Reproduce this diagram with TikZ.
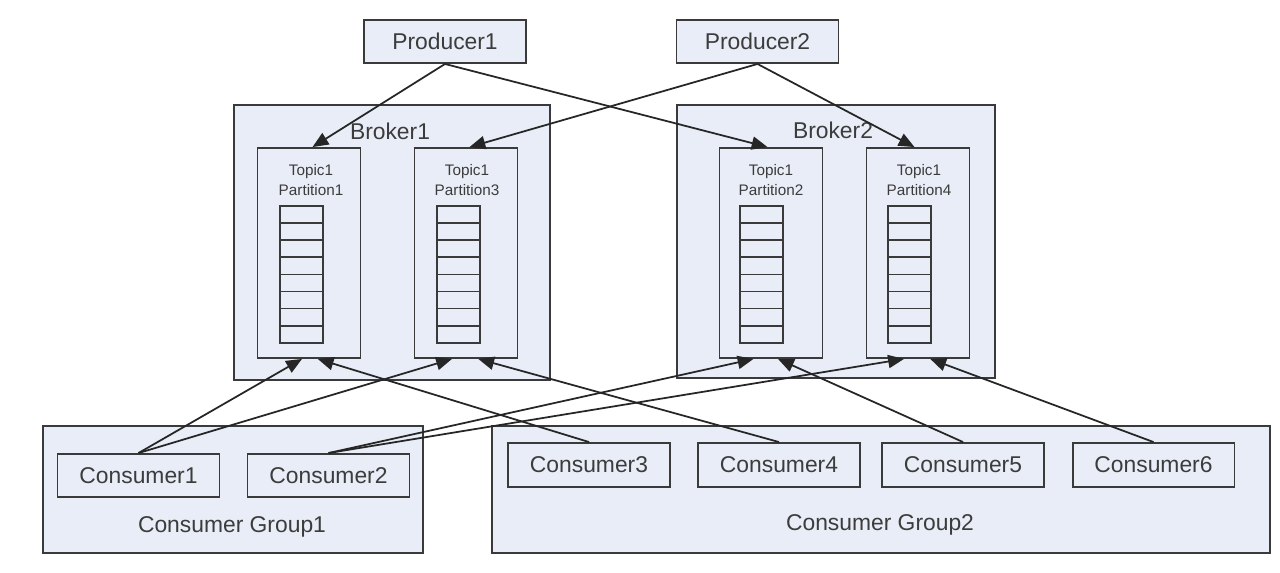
\documentclass[tikz,border=0pt]{standalone}
\usepackage{fontspec}
\setmainfont{Liberation Sans}
\usetikzlibrary{arrows.meta,positioning}

\definecolor{boxfill}{HTML}{E8EDF7}
\definecolor{boxline}{HTML}{3A3A3A}
\definecolor{txt}{HTML}{3C3C3C}

\begin{document}
\begin{tikzpicture}[
      x=0.02cm, y=-0.02cm,
      every node/.style={font=\fontsize{13}{15}\selectfont, text=txt},
      box/.style={draw=boxline, fill=boxfill, line width=1.1pt,
        inner sep=0pt, minimum height=0.86cm, minimum width=3.24cm},
      bigbox/.style={draw=boxline, fill=boxfill, line width=1.1pt, inner sep=0pt},
      partbox/.style={draw=boxline, fill=boxfill, line width=1.1pt,
        inner sep=0pt, minimum width=2.06cm, minimum height=4.2cm},
      parttext/.style={align=center, font=\fontsize{8.7}{11.3}\selectfont},
      cell/.style={draw=boxline, line width=1pt},
      link/.style={draw=black!85, line width=1pt,
        -{Triangle[length=9pt,width=7.5pt]}}
    ]
    \useasboundingbox (0,0) rectangle (1280,572);

    % Producers
    \node[box] (prod1) at (445,41.5) {Producer1};
    \node[box] (prod2) at (757.5,41.5) {Producer2};

    % Brokers
    \node[bigbox, minimum width=6.32cm, minimum height=5.5cm] (broker1) at (392,242.5) {};
    \node (broker1t) at (390,131) {Broker1};
    \node[bigbox, minimum width=6.36cm, minimum height=5.46cm] (broker2) at (836,241.5) {};
    \node (broker2t) at (833,130) {Broker2};

    % Partitions
    \node[partbox] (p1) at (309,253) {};
    \node[partbox] (p3) at (466,253) {};
    \node[partbox] (p2) at (771,253) {};
    \node[partbox] (p4) at (918,253) {};
    \node[parttext] (p1t) at (311,180) {Topic1\\Partition1};
    \node[parttext] (p3t) at (467,180) {Topic1\\Partition3};
    \node[parttext] (p2t) at (771,180) {Topic1\\Partition2};
    \node[parttext] (p4t) at (919,180) {Topic1\\Partition4};

    % Message logs
    \foreach \sx in {280,437,740,888}
      \foreach \k in {0,...,7}
        \draw[cell] (\sx,206+17.1*\k) rectangle ++(43,17.1);

    % Consumer groups
    \node[bigbox, minimum width=7.6cm, minimum height=2.54cm] (group1) at (233,489.5) {};
    \node (group1t) at (232,527) {Consumer Group1};
    \node[bigbox, minimum width=15.56cm, minimum height=2.54cm] (group2) at (881,489.5) {};
    \node (group2t) at (880,525) {Consumer Group2};

    % Consumers
    \node[box] (cons1) at (138.5,475.5) {Consumer1};
    \node[box] (cons2) at (328.5,475.5) {Consumer2};
    \node[box, minimum height=0.88cm] (cons3) at (589,465) {Consumer3};
    \node[box, minimum height=0.88cm] (cons4) at (779,465) {Consumer4};
    \node[box, minimum height=0.88cm] (cons5) at (963,465) {Consumer5};
    \node[box, minimum height=0.88cm] (cons6) at (1153.5,465) {Consumer6};

    % Arrows from producers
    \draw[link] (prod1.south) -- ([xshift=2pt]p1.north);
    \draw[link] (prod1.south) -- ([xshift=-2pt]p2.north);
    \draw[link] (prod2.south) -- ([xshift=2pt]p3.north);
    \draw[link] (prod2.south) -- ([xshift=-2pt]p4.north);

    % Arrows from consumers
    \draw[link] (cons1.north) -- ([xshift=-4pt]p1.south);
    \draw[link] (cons1.north) -- ([xshift=-8pt]p3.south);
    \draw[link] (cons2.north) -- ([xshift=-10pt]p2.south);
    \draw[link] (cons2.north) -- ([xshift=-8pt]p4.south);
    \draw[link] (cons3.north) -- ([xshift=5pt]p1.south);
    \draw[link] (cons4.north) -- ([xshift=7pt]p3.south);
    \draw[link] (cons5.north) -- ([xshift=4pt]p2.south);
    \draw[link] (cons6.north) -- ([xshift=7pt]p4.south);

  \end{tikzpicture}
\end{document}
